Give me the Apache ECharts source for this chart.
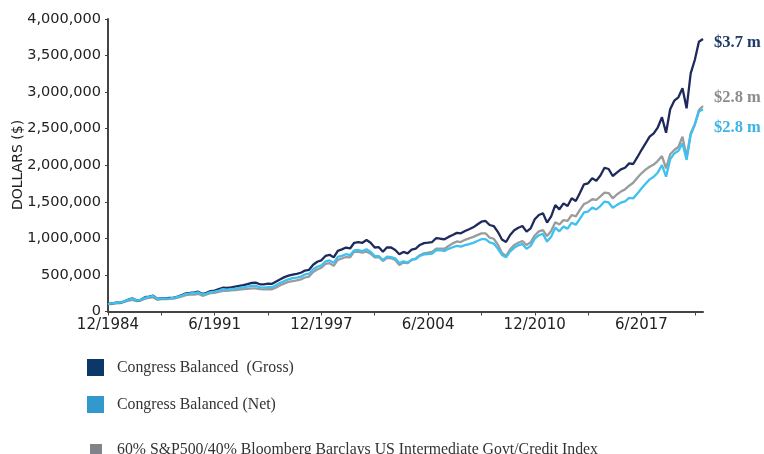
<!DOCTYPE html>
<html><head><meta charset="utf-8">
<script src="https://cdn.jsdelivr.net/npm/echarts@6/dist/echarts.min.js"></script>
<style>html,body{margin:0;padding:0;background:#fff}#c{width:764px;height:454px}</style>
</head><body><div id="c"></div>
<script>
// Quarterly values in thousands of dollars, 12/1984 .. 3/2021
const grossK = [100,110,120,122,140,165,178,150,160,195,205,218,172,182,180,185,190,205,225,250,255,262,272,238,255,280,285,305,325,322,330,340,350,360,375,390,394,372,370,380,378,410,440,470,490,505,515,530,560,570,640,680,700,760,775,740,830,850,875,862,940,950,940,978,940,875,880,818,878,875,841,782,815,796,845,860,910,935,941,950,1005,995,987,1020,1046,1075,1069,1100,1124,1151,1190,1228,1238,1183,1169,1090,985,950,1046,1110,1146,1169,1092,1137,1261,1320,1343,1215,1300,1456,1397,1479,1443,1548,1511,1620,1739,1753,1821,1789,1860,1966,1949,1853,1900,1944,1966,2026,2017,2110,2208,2300,2390,2437,2519,2656,2445,2765,2883,2929,3052,2779,3257,3439,3690,3727];
const netK = [100,110,119,121,139,163,176,149,158,191,201,214,169,178,176,180,185,199,218,243,247,253,262,230,245,266,271,287,306,299,307,313,322,328,341,351,355,329,326,334,333,363,392,418,439,455,464,477,507,516,579,612,630,684,698,666,747,761,783,771,837,841,827,851,818,757,757,703,751,744,727,659,685,669,708,718,760,781,786,793,839,836,829,857,879,898,887,908,922,938,964,989,990,946,929,861,773,741,821,871,905,924,857,898,996,1043,1061,956,1023,1146,1097,1161,1133,1215,1186,1268,1356,1367,1420,1395,1442,1504,1491,1419,1455,1489,1506,1554,1547,1612,1682,1748,1807,1842,1902,2003,1844,2079,2162,2197,2301,2073,2413,2552,2734,2765];
const indexK = [97,105,112,115,130,150,160,142,150,175,185,195,160,168,168,172,175,188,205,225,230,232,242,215,232,252,255,268,282,282,288,292,300,305,310,317,317,305,302,306,304,330,358,385,405,415,425,440,465,478,540,575,598,650,660,625,705,725,745,740,818,815,805,818,790,740,745,690,735,728,704,636,670,660,705,725,770,795,804,815,860,860,858,895,932,958,950,980,1000,1020,1045,1069,1069,1010,995,915,800,759,850,910,940,964,909,945,1040,1095,1114,1032,1100,1220,1190,1250,1240,1320,1300,1390,1470,1495,1535,1525,1575,1625,1620,1548,1600,1640,1670,1720,1760,1830,1890,1940,1980,2010,2060,2126,1958,2150,2208,2250,2390,2117,2437,2560,2756,2810];
const seriesNames = ['Congress Balanced  (Gross)','Congress Balanced (Net)','60% S&P500/40% Bloomberg Barclays US Intermediate Govt/Credit Index'];
const endLabels = ['$3.7 m','$2.8 m','$2.8 m'];
const yAxisName = 'DOLLARS ($)';
const yTicks = [0,500000,1000000,1500000,2000000,2500000,3000000,3500000,4000000];
const startYear = 1984, startMonth = 12, nQuarters = grossK.length;

const categories = [];
{ let y = startYear, m = startMonth;
  for (let i = 0; i < nQuarters; i++) { categories.push(m + '/' + y); m += 3; if (m > 12) { m -= 12; y++; } } }
const toDollars = a => a.map(v => v * 1000);

const chart = echarts.init(document.getElementById('c'), null, {renderer:'canvas'});
const axisColor = '#444';
const serif = '"Liberation Serif", "Times New Roman", serif';
const sans = '"DejaVu Sans", Verdana, sans-serif';
function legend(name, top, size, left, color, pad) {
  return { data:[{name:name, itemStyle:{color:color}}], orient:'vertical', left:left, top:top,
    padding:0, itemWidth:size, itemHeight:size, icon:'rect', selectedMode:false,
    textStyle:{fontFamily:serif, fontSize:15.8, color:'#333', padding:[0,0,0,pad]} };
}
chart.setOption({
  animation:false,
  grid:{left:108, right:61, top:19, bottom:142.5, containLabel:false, outerBoundsMode:'none'},
  graphic:[{type:'text', x:18, y:165, rotation:Math.PI/2,
    style:{text:yAxisName, fontFamily:sans, fontSize:14, fill:'#222', align:'center', verticalAlign:'middle'}}],
  legend:[
    legend(seriesNames[0], 359, 17, 87, '#0b3868', 8),
    legend(seriesNames[1], 396, 17, 87, '#3399cc', 8),
    legend(seriesNames[2], 442, 12, 90, '#808389', 10)
  ],
  xAxis:{type:'category', data:categories, boundaryGap:false,
    axisLine:{lineStyle:{color:axisColor, width:2}},
    axisTick:{interval:12, length:4, lineStyle:{color:axisColor}},
    axisLabel:{interval:25, color:'#222', fontFamily:sans, fontSize:15, margin:6}},
  yAxis:{type:'value', min:yTicks[0], max:yTicks[yTicks.length-1], interval:yTicks[1]-yTicks[0],
    splitLine:{show:false},
    axisLine:{show:true, lineStyle:{color:axisColor, width:2}},
    axisTick:{show:true, length:3, lineStyle:{color:axisColor}},
    axisLabel:{color:'#222', fontFamily:sans, fontSize:14.5, margin:7,
      formatter:v => v.toLocaleString('en-US')}},
  series:[
    {name:seriesNames[2], type:'line', data:toDollars(indexK), symbol:'none', z:2,
      lineStyle:{color:'#9b9b9b', width:2.3}, itemStyle:{color:'#9b9b9b'},
      endLabel:{show:true, formatter:endLabels[2], offset:[3,-8], fontFamily:serif, fontWeight:'bold', fontSize:16.5, color:'#8c8c8c'}},
    {name:seriesNames[0], type:'line', data:toDollars(grossK), symbol:'none', z:3,
      lineStyle:{color:'#1f2a5c', width:2.3}, itemStyle:{color:'#1f2a5c'},
      endLabel:{show:true, formatter:endLabels[0], offset:[3,4], fontFamily:serif, fontWeight:'bold', fontSize:16.5, color:'#1f3a68'}},
    {name:seriesNames[1], type:'line', data:toDollars(netK), symbol:'none', z:4,
      lineStyle:{color:'#3ec1f0', width:2.3}, itemStyle:{color:'#3ec1f0'},
      endLabel:{show:true, formatter:endLabels[1], offset:[3,18], fontFamily:serif, fontWeight:'bold', fontSize:16.5, color:'#3bb4e5'}}
  ]
});
</script></body></html>
